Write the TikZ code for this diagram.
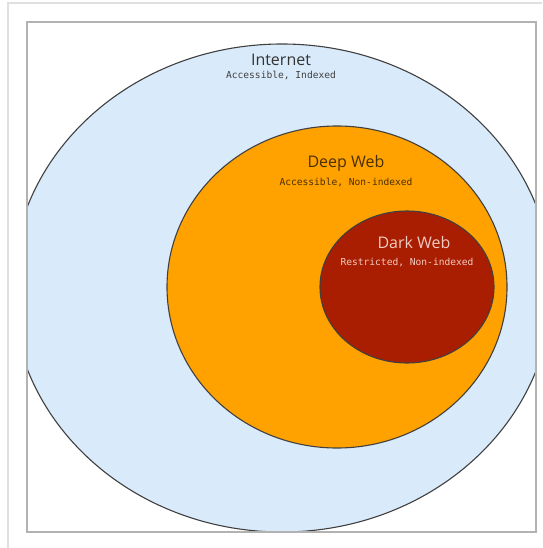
\documentclass[tikz,border=0pt]{standalone}
\usepackage{fontspec}
\setmainfont{Open Sans}
\newfontfamily\monofont{DejaVu Sans Mono}
\definecolor{netblue}{HTML}{D9EAFB}
\definecolor{deeporange}{HTML}{FFA200}
\definecolor{darkred}{HTML}{A91D00}
\definecolor{deeptext}{HTML}{4A3000}
\definecolor{darktext}{HTML}{F3CBC2}
\tikzset{
  layer/.style={draw=black!75, line width=1.1pt},
  title/.style={font=\fontsize{16}{18}\selectfont, inner sep=0pt},
  subtitle/.style={font=\monofont\fontsize{9.6}{11}\selectfont, inner sep=0pt}
}
\begin{document}
\begin{tikzpicture}[x=1pt, y=-1pt]
    \useasboundingbox (0,0) rectangle (542,548);
    % screenshot frames
    \draw[black!12, line width=1.5pt] (8,548) -- (8,3) -- (542,3);
    \fill[white] (27,22) rectangle (536,532);
    % layers
    \begin{scope}
      \clip (27,22) rectangle (536,532);
      \draw[layer, fill=netblue] (282,288) ellipse [x radius=270, y radius=244];
    \end{scope}
    \draw[layer, fill=deeporange] (337,287) ellipse [x radius=170, y radius=161];
    \draw[layer, fill=darkred] (407,287) ellipse [x radius=87, y radius=76];
    \draw[black!30, line width=1.5pt] (27,22) rectangle (536,532);
    % labels
    \node[title, black!80] (internet) at (281,60) {Internet};
    \node[subtitle, black!75] (internetsub) at (281,76) {Accessible, Indexed};
    \node[title, deeptext] (deep) at (346,163) {Deep Web};
    \node[subtitle, deeptext] (deepsub) at (346,182) {Accessible, Non-indexed};
    \node[title, darktext] (dark) at (414,242) {Dark Web};
    \node[subtitle, darktext] (darksub) at (407,263) {Restricted, Non-indexed};
\end{tikzpicture}
\end{document}
